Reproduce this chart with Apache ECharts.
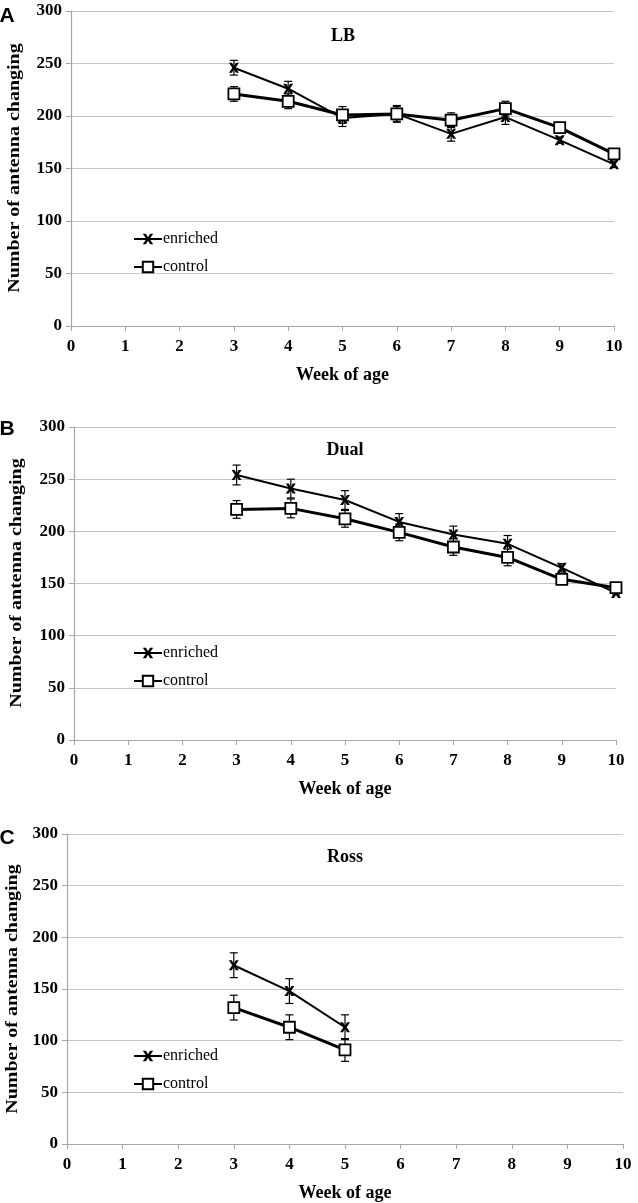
<!DOCTYPE html>
<html>
<head>
<meta charset="utf-8">
<script src="https://cdn.jsdelivr.net/npm/echarts@6/dist/echarts.min.js"></script>
<style>html,body{margin:0;padding:0;background:#fff;}#c{width:638px;height:1203px;}</style>
</head>
<body>
<div id="c"></div>
<script>
// ---- data ----
const weeksLB = [3, 4, 5, 6, 7, 8, 9, 10];
const lbEnriched = [246, 226, 198, 202, 183, 199, 177, 154];
const lbEnrichedErr = [7, 7, 8, 8, 7, 7, 3, 3];
const lbControl = [221, 214, 201, 202, 196, 207, 189, 164];
const lbControlErr = [7, 7, 8, 7, 7, 7, 3, 3];

const weeksDual = [3, 4, 5, 6, 7, 8, 9, 10];
const dualEnriched = [254, 241, 230, 209, 197, 188, 165, 141];
const dualEnrichedErr = [9.5, 9, 9, 8, 8, 8, 4, 2];
const dualControl = [221, 222, 212, 199, 185, 175, 154, 146];
const dualControlErr = [8.5, 9, 8, 8, 8, 8, 4, 2];

const weeksRoss = [3, 4, 5];
const rossEnriched = [173, 148, 113];
const rossEnrichedErr = [12, 12, 12];
const rossControl = [132, 113, 91];
const rossControlErr = [12, 12, 11];

const xTicks = [0, 1, 2, 3, 4, 5, 6, 7, 8, 9, 10];
const panelTitles = ['LB', 'Dual', 'Ross'];
const panelLetters = ['A', 'B', 'C'];
const seriesNames = ['enriched', 'control'];
const yTitle = 'Number of antenna changing';
const xTitle = 'Week of age';

// ---- styling ----
const SERIF = 'Liberation Serif';
const xMark = 'path://M0,0 L3,0 L5,3.4 L7,0 L10,0 L6.6,5 L10,10 L7,10 L5,6.6 L3,10 L0,10 L3.4,5 Z';

const grids = [
  { left: 71, right: 24, top: 11, height: 315, outerBoundsMode: 'none', containLabel: false },
  { left: 74, right: 22, top: 427, height: 313, outerBoundsMode: 'none', containLabel: false },
  { left: 67, right: 15, top: 834, height: 310, outerBoundsMode: 'none', containLabel: false }
];

function pts(w, v) { return w.map((x, i) => [x, v[i]]); }
function errs(w, v, e) { return w.map((x, i) => [x, v[i] - e[i], v[i] + e[i]]); }

function errSeries(idx, data) {
  return {
    type: 'custom', xAxisIndex: idx, yAxisIndex: idx, z: 1, silent: true,
    data: data,
    renderItem: function (params, api) {
      const x = api.value(0), lo = api.value(1), hi = api.value(2);
      const p1 = api.coord([x, hi]), p2 = api.coord([x, lo]);
      const w = 4;
      const st = { stroke: '#000', lineWidth: 1.2 };
      return {
        type: 'group', children: [
          { type: 'line', shape: { x1: p1[0], y1: p1[1], x2: p2[0], y2: p2[1] }, style: st },
          { type: 'line', shape: { x1: p1[0] - w, y1: p1[1], x2: p1[0] + w, y2: p1[1] }, style: st },
          { type: 'line', shape: { x1: p2[0] - w, y1: p2[1], x2: p2[0] + w, y2: p2[1] }, style: st }
        ]
      };
    }
  };
}

function enrichedSeries(idx, data) {
  return {
    name: 'enriched', type: 'line', xAxisIndex: idx, yAxisIndex: idx, z: 3,
    data: data, symbol: xMark, symbolSize: 10,
    lineStyle: { color: '#000', width: 2 },
    itemStyle: { color: '#000', borderWidth: 0 }
  };
}
function controlSeries(idx, data) {
  return {
    name: 'control', type: 'line', xAxisIndex: idx, yAxisIndex: idx, z: 4,
    data: data, symbol: 'rect', symbolSize: 11,
    lineStyle: { color: '#000', width: 3 },
    itemStyle: { color: '#fff', borderColor: '#000', borderWidth: 1.8 }
  };
}

const xAxes = grids.map((g, i) => ({
  type: 'value', gridIndex: i, min: 0, max: 10, interval: 1,
  name: xTitle, nameLocation: 'middle', nameGap: 40,
  nameTextStyle: { fontFamily: SERIF, fontWeight: 'bold', fontSize: 18, color: '#000' },
  axisLine: { show: true, onZero: false, lineStyle: { color: '#a6a6a6', width: 1.2 } },
  axisTick: { show: true, inside: false, length: 5, lineStyle: { color: '#a6a6a6' } },
  axisLabel: { fontFamily: SERIF, fontWeight: 'bold', fontSize: 17, color: '#000', margin: 12,
    formatter: v => String(xTicks[v] !== undefined ? xTicks[v] : v) },
  splitLine: { show: false }
}));

const yAxes = grids.map((g, i) => ({
  type: 'value', gridIndex: i, min: 0, max: 300, interval: 50,
  axisLine: { show: true, lineStyle: { color: '#a6a6a6', width: 1.2 } },
  axisTick: { show: true, inside: false, length: 5, lineStyle: { color: '#a6a6a6' } },
  axisLabel: { fontFamily: SERIF, fontWeight: 'bold', fontSize: 17, color: '#000', margin: 9 },
  splitLine: { show: true, lineStyle: { color: '#c6c6c6', width: 1.2 } }
}));

const legendTops = [226, 640, 1043];
const legends = legendTops.map(t => ({
  data: seriesNames, orient: 'vertical', left: 128, top: t,
  itemWidth: 28, itemHeight: 13, itemGap: 12, selectedMode: false,
  textStyle: { fontFamily: SERIF, fontSize: 16, color: '#000', padding: [0, 0, 0, -4] }
}));

const titlePos = [[343, 36], [345, 450], [345, 857]];
const letterPos = [[7, 16], [7, 429], [7, 838]];
const yTitlePos = [[15, 168], [17, 583], [13, 989]];
const graphics = [];
panelTitles.forEach((t, i) => graphics.push({
  type: 'text', x: titlePos[i][0], y: titlePos[i][1],
  style: { text: t, fontFamily: SERIF, fontWeight: 'bold', fontSize: 18, fill: '#000', align: 'center', verticalAlign: 'middle' }
}));
panelLetters.forEach((t, i) => graphics.push({
  type: 'text', x: letterPos[i][0], y: letterPos[i][1],
  style: { text: t, fontFamily: 'Liberation Sans', fontWeight: 'bold', fontSize: 21, fill: '#000', align: 'center', verticalAlign: 'middle' }
}));
yTitlePos.forEach(p => graphics.push({
  type: 'text', x: p[0], y: p[1], rotation: Math.PI / 2, scaleX: 1, scaleY: 0.82,
  style: { text: yTitle, fontFamily: SERIF, fontWeight: 'bold', fontSize: 20, fill: '#000', align: 'center', verticalAlign: 'middle' }
}));

const series = [
  errSeries(0, errs(weeksLB, lbEnriched, lbEnrichedErr)),
  errSeries(0, errs(weeksLB, lbControl, lbControlErr)),
  enrichedSeries(0, pts(weeksLB, lbEnriched)),
  controlSeries(0, pts(weeksLB, lbControl)),
  errSeries(1, errs(weeksDual, dualEnriched, dualEnrichedErr)),
  errSeries(1, errs(weeksDual, dualControl, dualControlErr)),
  enrichedSeries(1, pts(weeksDual, dualEnriched)),
  controlSeries(1, pts(weeksDual, dualControl)),
  errSeries(2, errs(weeksRoss, rossEnriched, rossEnrichedErr)),
  errSeries(2, errs(weeksRoss, rossControl, rossControlErr)),
  enrichedSeries(2, pts(weeksRoss, rossEnriched)),
  controlSeries(2, pts(weeksRoss, rossControl))
];

const chart = echarts.init(document.getElementById('c'), null, { renderer: 'canvas' });
chart.setOption({
  animation: false,
  backgroundColor: '#fff',
  grid: grids,
  xAxis: xAxes,
  yAxis: yAxes,
  legend: legends,
  graphic: graphics,
  series: series
});
</script>
</body>
</html>
